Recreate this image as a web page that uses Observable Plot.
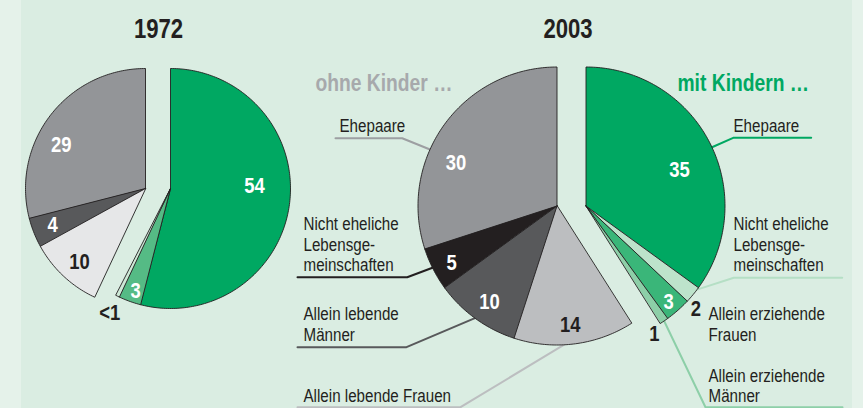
<!DOCTYPE html>
<html><head><meta charset="utf-8">
<script src="https://cdn.jsdelivr.net/npm/d3@7"></script>
<script src="https://cdn.jsdelivr.net/npm/@observablehq/plot@0.6"></script>
<style>
html,body{margin:0;padding:0;background:#e5f2ea;}
#chart{padding-left:21px;width:831px;height:408px;}
#chart svg{display:block;}
</style></head><body><div id="chart"></div>
<script>
// ---------- data ----------
const years = ["1972", "2003"];
const groupTitles = ["ohne Kinder …", "mit Kindern …"];
const ohneCategories = ["Ehepaare", "Nicht eheliche Lebensgemeinschaften", "Allein lebende Männer", "Allein lebende Frauen"];
const mitCategories = ["Ehepaare", "Nicht eheliche Lebensgemeinschaften", "Allein erziehende Frauen", "Allein erziehende Männer"];
const ohneCategoryText = ["Ehepaare", "Nicht eheliche\nLebensge-\nmeinschaften", "Allein lebende\nMänner", "Allein lebende Frauen"];
const mitCategoryText = ["Ehepaare", "Nicht eheliche\nLebensge-\nmeinschaften", "Allein erziehende\nFrauen", "Allein erziehende\nMänner"];
const ohne1972 = [29, 0, 4, 10];
const mit1972 = [54, 0, 3, 0.5];
const ohne2003 = [30, 5, 10, 14];
const mit2003 = [35, 2, 3, 1];
const ohneLabels1972 = ["29", "", "4", "10"];
const mitLabels1972 = ["54", "", "3", "<1"];
const ohneLabels2003 = ["30", "5", "10", "14"];
const mitLabels2003 = ["35", "2", "3", "1"];

// ---------- styles / layout ----------
const FONT = "'Liberation Sans',Arial,sans-serif";
const NARROW = 0.82; // horizontal compression to mimic a condensed face
const DARK = "#231f20";
const ohneColors1972 = ["#939598", DARK, "#58595b", "#e6e7e8"];
const mitColors1972 = ["#00a862", "#c1e4cd", "#55bb85", "#cde9d6"];
const ohneColors2003 = ["#939598", DARK, "#58595b", "#bcbec0"];
const mitColors2003 = ["#00a862", "#bde3cb", "#3ab679", "#8dcfa8"];
const pieLayout = {
  "1972": {cx: 157.5, cy: 188, r: 120, gap: 12.5},
  "2003": {cx: 571, cy: 205.5, r: 139, gap: 14.5}
};
// label placement: [angle nudge from slice middle (deg), radius fraction, colour]
const labelPlace = {
  "1972-ohne": [[-10.4, 0.79, "white"], [0, 0, ""], [0.4, 0.83, "white"], [-1, 0.82, DARK]],
  "1972-mit":  [[-9.2, 0.70, "white"], [0, 0, ""], [-1, 0.90, "white"], [0, 1.15, DARK]],
  "2003-ohne": [[-12.8, 0.79, "white"], [-1.2, 0.86, "white"], [-0.7, 0.84, "white"], [0.8, 0.86, DARK]],
  "2003-mit":  [[6, 0.72, "white"], [3.4, 1.08, DARK], [0.6, 0.91, "white"], [6, 1.04, DARK]]
};
// leaders for 2003: [angle nudge, elbow x, elbow y, end x, end y, colour] (null = none)
const leaderPlace = {
  "2003-ohne": [[-12, 401.7, 137.7, 335, 137.7, "#9d9fa2"], [0.6, 406.7, 276.7, 297, 276.7, DARK], [0.2, 406, 346.7, 297, 346.7, "#58595b"], [4.4, 460, 406.7, 297, 406.7, "#bcbec0"]],
  "2003-mit":  [[2, 732.7, 137.3, 810.7, 137.3, "#00a862"], [-2.6, 733.3, 277.3, 841.7, 277.3, "#b5dfc5"], null, [0, 705, 406.7, 842, 406.7, "#8dcfa8"]]
};
// category text anchor: [x, last baseline y]
const catPlace = {
  "2003-ohne": [[339, 131], [303, 270.5], [303, 340], [303, 401.7]],
  "2003-mit":  [[733, 131], [733, 270.5], [708, 340], [708, 401.7]]
};
const titlePlace = {years: [[158, 37], [567.5, 37]], groups: [[315, 90.5], [677, 90.5]]};

// ---------- geometry ----------
const deg = Math.PI / 180;
const polar = (cx, cy, r, a) => [cx + r * Math.sin(a * deg), cy - r * Math.cos(a * deg)];
const sliceRows = [], labelRows = [], leaderRows = [], catRows = [];

function buildGroup(year, side, values, labels, colors, catText) {
  const pie = pieLayout[year];
  const dir = side === "ohne" ? -1 : 1;
  const cx = pie.cx + dir * pie.gap;
  const key = `${year}-${side}`;
  let a = side === "ohne" ? 360 : 0;
  values.forEach((v, i) => {
    const a0 = a, a1 = a + dir * v * 3.6;
    a = a1;
    if (v <= 0) return;
    const mid = (a0 + a1) / 2;
    const id = `${key}-${i}`;
    sliceRows.push({id, x: cx, y: pie.cy, color: colors[i]});
    const n = Math.max(2, Math.ceil(Math.abs(a1 - a0)));
    for (let k = 0; k <= n; k++) {
      const [x, y] = polar(cx, pie.cy, pie.r, a0 + (a1 - a0) * k / n);
      sliceRows.push({id, x, y, color: colors[i]});
    }
    const lp = labelPlace[key][i];
    const [lx, ly] = polar(cx, pie.cy, pie.r * lp[1], mid + lp[0]);
    labelRows.push({x: lx, y: ly, text: labels[i], fill: lp[2]});
    if (leaderPlace[key] && leaderPlace[key][i]) {
      const L = leaderPlace[key][i];
      const [sx, sy] = polar(cx, pie.cy, pie.r, mid + L[0]);
      leaderRows.push({id, x: sx, y: sy, color: L[5]}, {id, x: L[1], y: L[2], color: L[5]}, {id, x: L[3], y: L[4], color: L[5]});
    }
    if (catPlace[key]) {
      const c = catPlace[key][i];
      catRows.push({x: c[0], y: c[1], text: catText[i]});
    }
  });
}
buildGroup("1972", "ohne", ohne1972, ohneLabels1972, ohneColors1972, ohneCategoryText);
buildGroup("1972", "mit", mit1972, mitLabels1972, mitColors1972, mitCategoryText);
buildGroup("2003", "ohne", ohne2003, ohneLabels2003, ohneColors2003, ohneCategoryText);
buildGroup("2003", "mit", mit2003, mitLabels2003, mitColors2003, mitCategoryText);

const yearRows = years.map((t, i) => ({x: titlePlace.years[i][0], y: titlePlace.years[i][1], text: t}));
const groupRows = groupTitles.map((t, i) => ({x: titlePlace.groups[i][0], y: titlePlace.groups[i][1], text: t, fill: i ? "#00a862" : "#a7a9ac"}));

const chart = Plot.plot({
  width: 831, height: 408, margin: 0,
  x: {domain: [21, 852], range: [0, 831], axis: null},
  y: {domain: [0, 408], range: [0, 408], axis: null},
  color: {type: "identity"},
  style: {background: "#daede2", fontFamily: FONT},
  marks: [
    Plot.line(leaderRows, {x: "x", y: "y", z: "id", stroke: "color", strokeWidth: 2}),
    Plot.line(sliceRows, {x: "x", y: "y", z: "id", fill: "color", stroke: DARK, strokeWidth: 0.9, curve: "linear-closed", strokeLinejoin: "round"}),
    Plot.text(labelRows, {x: "x", y: "y", text: "text", fill: "fill", fontSize: 22.5, fontWeight: "bold", fontFamily: FONT, textAnchor: "middle", lineAnchor: "middle"}),
    Plot.text(catRows, {x: "x", y: "y", text: "text", fill: DARK, fontSize: 18.5, fontFamily: FONT, textAnchor: "start", lineAnchor: "bottom", lineHeight: 1.108}),
    Plot.text(yearRows, {x: "x", y: "y", text: "text", fill: DARK, fontSize: 27, fontWeight: "bold", fontFamily: FONT, textAnchor: "middle", lineAnchor: "bottom"}),
    Plot.text(groupRows, {x: "x", y: "y", text: "text", fill: "fill", fontSize: 23.5, fontWeight: "bold", fontFamily: FONT, textAnchor: "start", lineAnchor: "bottom"})
  ]
});
// condense every label horizontally around its own anchor point
chart.querySelectorAll("text").forEach((t) => {
  const tr = t.getAttribute("transform") || "";
  t.setAttribute("transform", `${tr} scale(${NARROW},1)`);
});
document.getElementById("chart").append(chart);
</script></body></html>
